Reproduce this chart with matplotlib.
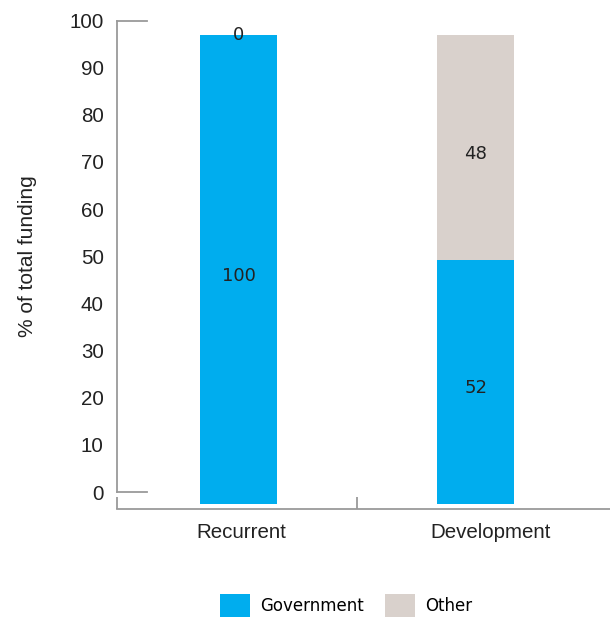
import matplotlib
matplotlib.use("Agg")
import matplotlib.pyplot as plt
import matplotlib.transforms as mtrans
import numpy as np

# data
categories = ["Recurrent", "Development"]
government = [100, 52]
other = [0, 48]
yticks = list(range(0, 101, 10))

blue = "#00ADEE"
beige = "#D9D1CC"
axis_grey = "#9A9A9A"
text_col = "#222222"

W, H = 610, 617
fig = plt.figure(figsize=(W / 100, H / 100), dpi=100)

# axes holding the bars (its own y scale, spine hidden)
ax = fig.add_axes([117 / W, (H - 509) / H, (610 - 117) / W, (509 - 20) / H])
ax.set_ylim(-1.13, 103.2)
ax.set_xlim(-0.513, 1.567)
x = np.arange(len(categories))
bw = 0.325
ax.bar(x, government, bw, color=blue, label="Government")
ax.bar(x, other, bw, bottom=government, color=beige, label="Other")

for i in range(len(categories)):
    segs = [(0, government[i]), (government[i], other[i])]
    for bottom, val in segs:
        off = 0 if val == 0 else -4.5
        ax.annotate(str(val), (x[i], bottom + val / 2), xytext=(0, off),
                    textcoords="offset points", ha="center", va="center",
                    fontsize=13, color=text_col, family="DejaVu Sans")

for s in ["left", "right", "top"]:
    ax.spines[s].set_visible(False)
ax.spines["bottom"].set_color(axis_grey)
ax.spines["bottom"].set_linewidth(1.3)
ax.set_yticks([])
ax.set_xticks(x)
ax.set_xticklabels(categories, fontsize=14.8, family="Liberation Sans", color=text_col)
ax.tick_params(axis="x", which="major", length=0, pad=10)
# labels sit in the middle of their slot, not under the bar
for lab, dx in zip(ax.get_xticklabels(), [3, 15]):
    lab.set_transform(lab.get_transform() +
                      mtrans.ScaledTranslation(dx / 100, 0, fig.dpi_scale_trans))
ax.set_xticks([-0.513, 0.5], minor=True)
ax.tick_params(axis="x", which="minor", direction="in", length=8.6,
               width=1.3, color=axis_grey)
ax.set_facecolor("none")

# separate y axis, drawn a bit higher than the bars
ay = fig.add_axes([117 / W, (H - 492) / H, 30 / W, (492 - 20.5) / H])
ay.set_ylim(0, 100)
ay.set_xlim(0, 1)
ay.set_facecolor("none")
for s in ["right", "top", "bottom"]:
    ay.spines[s].set_visible(False)
ay.spines["left"].set_color(axis_grey)
ay.spines["left"].set_linewidth(1.3)
ay.axhline(0, color=axis_grey, lw=1.3, clip_on=False)
ay.axhline(100, color=axis_grey, lw=1.3, clip_on=False)
ay.set_xticks([])
ay.set_yticks(yticks)
ay.set_yticklabels([str(t) for t in yticks], fontsize=14.8,
                   family="Liberation Sans", color=text_col)
ay.tick_params(axis="y", which="major", length=0, pad=9.5)
ay.set_ylabel("% of total funding", fontsize=15, family="Liberation Sans",
              color=text_col, labelpad=23)

handles, labels = ax.get_legend_handles_labels()
fig.legend(handles, labels, loc="center", bbox_to_anchor=(346 / W, (H - 606) / H),
           ncol=2, frameon=False, prop={"family": "DejaVu Sans", "size": 12},
           handlelength=1.8, handleheight=1.8, handletextpad=0.6,
           columnspacing=1.3, borderpad=0)

fig.savefig("out.png", dpi=100)
